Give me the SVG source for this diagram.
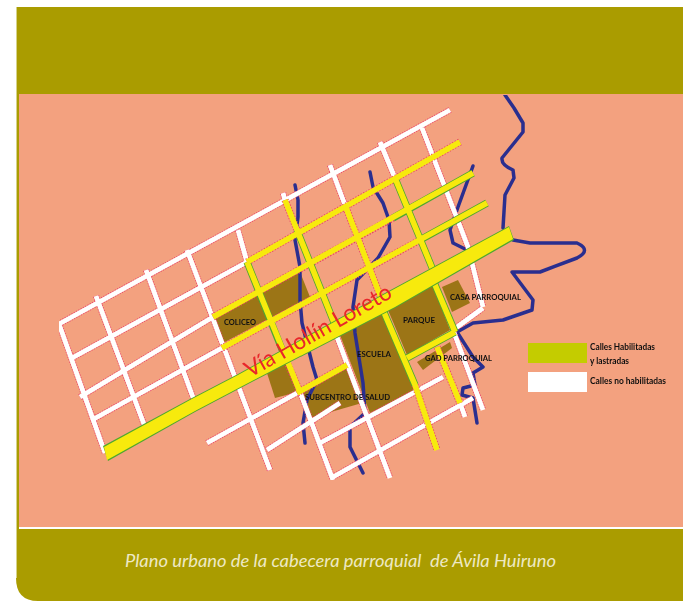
<svg xmlns="http://www.w3.org/2000/svg" width="683" height="601" viewBox="0 0 683 601">
<defs>
<style>
.e{fill:none;stroke-linecap:butt}
.we{stroke:#e8406a;stroke-width:6.400;stroke-dasharray:1.3 1.3}
.w{stroke:#fff;stroke-width:4.800}
.ye{stroke:#e8406a;stroke-width:7.200;stroke-dasharray:1.5 1.5}
.ge{stroke:#4fa82e;stroke-width:7.200}
.y{stroke:#f7ea10;stroke-width:5.600}
.r{fill:none;stroke:#2a2f8f;stroke-width:3.500;stroke-linejoin:round;stroke-linecap:round}
.b{fill:#9c7418}
.l{font-family:Lato,"Liberation Sans",sans-serif;font-size:8px;font-weight:700;fill:#111}
.k{font-family:Lato,"Liberation Sans",sans-serif;font-size:9px;font-weight:700;fill:#111}
</style>
<filter id="soft" x="0" y="0" width="100%" height="100%"><feGaussianBlur stdDeviation="0.35"/></filter>
</defs>
<rect width="683" height="601" fill="#fff"/>
<path id="frame" d="M16 7H683V601H38Q16 601 16 578Z" fill="#aa9c00"/>
<path d="M16.500 7V578" stroke="#d6d28a" stroke-width="1" fill="none"/>
<rect id="map-bg" x="19" y="94" width="664" height="433" fill="#f3a17f"/>
<rect x="19" y="527" width="664" height="2" fill="#fff"/>
<g id="map" filter="url(#soft)">
<g id="blocks">
<polygon id="coliseo" class="b" points="215,318 300,272 310,297 223,343"/>
<polygon class="b" points="267,373 286,362 298,392 275,398"/>
<polygon id="subcentro" class="b" points="300,392 347,365 362,403 310,418"/>
<polygon id="escuela" class="b" points="340,335 383,310 417,392 370,413"/>
<polygon id="parque" class="b" points="388,310 432,283 450,330 407,355"/>
<polygon id="casa" class="b" points="442,287 458,280 470,303 452,312"/>
<polygon id="gad" class="b" points="417,362 450,342 452,348 423,370"/>
</g>
<g id="rivers">
<path class="r" d="M505 95L514 108L523 123V132L502 158Q501 165 513 170L514 178L505 195L503 228"/>
<path class="r" d="M513 240L530 243L577 243Q592 250 577 258L540 272H512L533 300L532 310L503 320L473 323L457 332L473 357L483 367L473 373L475 385L463 388L462 395L473 398L477 423"/>
<path class="r" d="M295 185L298 200V217L295 240L300 267V300L302 323L313 367L317 380L307 400L303 423L305 443" stroke-width="2.800"/>
<path class="r" d="M370 172L373 187L383 203L389 220L390 237L378 258L357 280L353 307L355 333L363 383L365 413L350 427V447L363 473"/>
<path class="r" d="M473 166L458 207L450 230L453 243L467 250" stroke-width="2.800"/>
</g>
<g id="white-edges" class="e we">
<path d="M59 324L450 110M72 358L247 262M80 397L213 317M92 420L222 348M207 443L297 393M453 330L483 308M267 450L340 403M320 443L443 377M333 477L473 398M59 324L105 453M96 296L145 427M146 270L194 400M187 250L270 470M238 230L247 262M300 392L333 480M283 193L285 200M330 165L345 205M337 337L390 478M380 142L395 178M453 330L483 410M460 403L465 417M422 128L468 247L483 307"/>
</g>
<g id="white-streets" class="e w">
<path d="M59 324L450 110M72 358L247 262M80 397L213 317M92 420L222 348M207 443L297 393M453 330L483 308M267 450L340 403M320 443L443 377M333 477L473 398M59 324L105 453M96 296L145 427M146 270L194 400M187 250L270 470M238 230L247 262M300 392L333 480M283 193L285 200M330 165L345 205M337 337L390 478M380 142L395 178M453 330L483 410M460 403L465 417M422 128L468 247L483 307"/>
</g>
<g id="yellow-streets" class="e">
<path class="ye" d="M247 262L460 142M213 317L393 218M222 348L420 240M297 393L347 365M287 362L300 392M285 200L297 230M345 205L383 303M415 385L437 450M437 347L460 403"/>
<path class="ge" d="M393 218L473 173M420 240L487 203M407 358L455 332M247 262L287 362M297 230L337 330M383 310L415 385M395 178L433 270M433 280L455 332"/>
<path class="y" d="M247 262L460 142M213 317L473 173M222 348L487 203M297 393L347 365M407 358L455 332M247 262L300 392M285 200L337 330M345 205L383 303M383 310L415 385L437 450M395 178L433 270M433 280L455 332M437 347L460 403"/>
</g>
<g id="via">
<polygon points="103,446 190,399 238,374 385,293 509,226 514,240 395,308 250,383 195,412 108,461" fill="#4fa82e"/>
<polygon points="104,447 190,400 238,375 385,294 509,227 513,239 395,307 250,382 195,411 107,460" fill="#f7ea10"/>
</g>
<g id="labels">
<text class="l" x="224" y="325" textLength="32" lengthAdjust="spacingAndGlyphs">COLICEO</text>
<text class="l" x="305" y="400" textLength="85" lengthAdjust="spacingAndGlyphs">SUBCENTRO DE SALUD</text>
<text class="l" x="357" y="357" textLength="34" lengthAdjust="spacingAndGlyphs">ESCUELA</text>
<text class="l" x="403" y="323" textLength="32" lengthAdjust="spacingAndGlyphs">PARQUE</text>
<text class="l" x="450" y="300" textLength="71" lengthAdjust="spacingAndGlyphs">CASA PARROQUIAL</text>
<text class="l" x="425" y="361" textLength="67" lengthAdjust="spacingAndGlyphs">GAD PARROQUIAL</text>
<text x="250" y="378" transform="rotate(-29.500 250 378)" font-family="Lato,'Liberation Sans',sans-serif" font-size="23" fill="#e8262a" textLength="165" lengthAdjust="spacingAndGlyphs">Vía Hollín Loreto</text>
</g>
<g id="legend">
<rect x="528" y="343" width="59" height="20" fill="#c4cc00"/>
<rect x="528" y="372" width="59" height="20" fill="#fff"/>
<text class="k" x="590" y="350" textLength="65" lengthAdjust="spacingAndGlyphs">Calles Habilitadas</text>
<text class="k" x="590" y="364" textLength="39" lengthAdjust="spacingAndGlyphs">y lastradas</text>
<text class="k" x="590" y="384" textLength="76" lengthAdjust="spacingAndGlyphs">Calles no habilitadas</text>
</g>
</g>
<text id="caption" x="125" y="567" xml:space="preserve" font-family="Lato,'Liberation Sans',sans-serif" font-style="italic" font-size="16.500" fill="#eee9c4" textLength="431" lengthAdjust="spacingAndGlyphs">Plano urbano de la cabecera parroquial  de Ávila Huiruno</text>
</svg>
